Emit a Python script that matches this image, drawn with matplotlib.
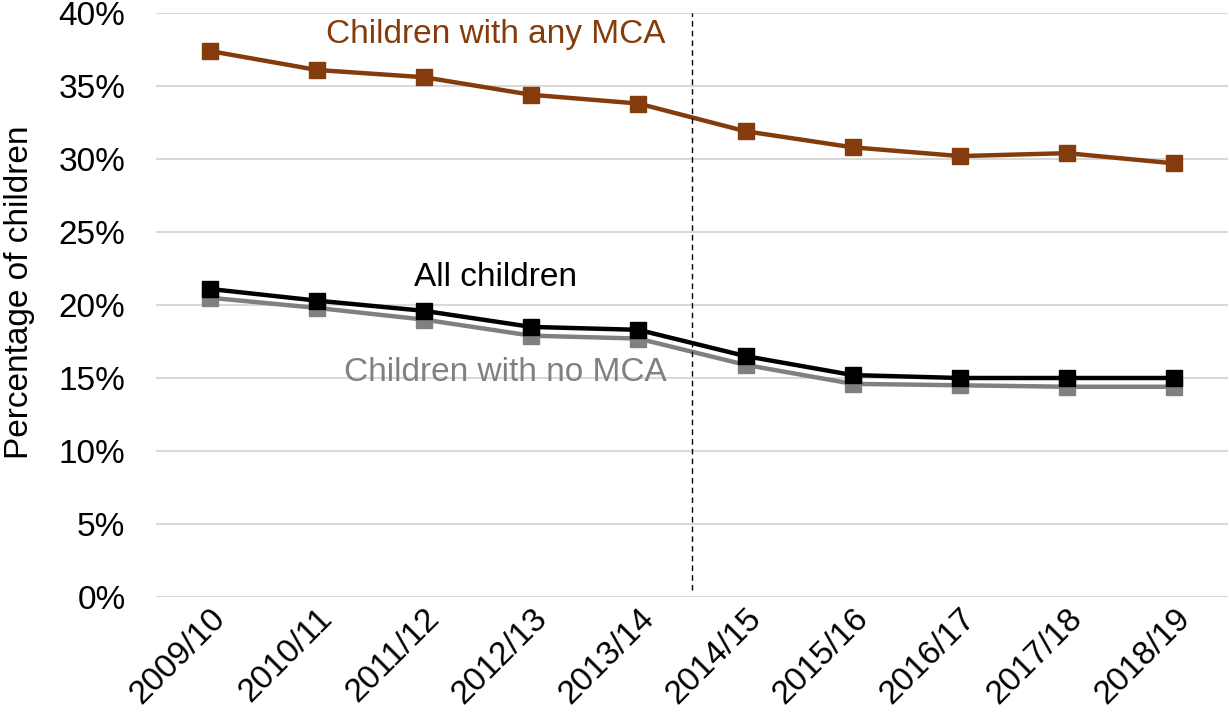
import matplotlib
matplotlib.use("Agg")
import matplotlib.pyplot as plt
from matplotlib.ticker import FuncFormatter

plt.rcParams['font.family'] = ['Liberation Sans', 'DejaVu Sans']

years = ["2009/10", "2010/11", "2011/12", "2012/13", "2013/14",
         "2014/15", "2015/16", "2016/17", "2017/18", "2018/19"]
any_mca = [37.4, 36.1, 35.6, 34.4, 33.8, 31.9, 30.8, 30.2, 30.4, 29.7]
all_children = [21.1, 20.3, 19.6, 18.5, 18.3, 16.5, 15.2, 15.0, 15.0, 15.0]
no_mca = [20.5, 19.8, 19.0, 17.9, 17.7, 15.9, 14.6, 14.5, 14.4, 14.4]
yticks = [0, 5, 10, 15, 20, 25, 30, 35, 40]

BROWN = "#843C0C"
GREY = "#808080"
FS = 24

fig = plt.figure(figsize=(12.29, 7.23), dpi=100)
ax = fig.add_axes([0.127, 0.1743, 0.872, 0.8077])

x = list(range(len(years)))
ax.plot(x, no_mca, color=GREY, lw=3.2, marker='s', ms=12, zorder=3)
ax.plot(x, all_children, color='black', lw=3.2, marker='s', ms=12, zorder=4)
ax.plot(x, any_mca, color=BROWN, lw=3.2, marker='s', ms=12, zorder=4)

ax.axvline(4.5, ymin=0.012, ymax=1.0, color='black', lw=1, ls=(0, (4, 3)), zorder=5)

ax.set_xlim(-0.5, len(years) - 0.5)
ax.set_ylim(0, 40)
ax.set_yticks(yticks)
ax.yaxis.set_major_formatter(FuncFormatter(lambda v, p: f"{v:.0f}%"))
ax.grid(axis='y', color='#d9d9d9', lw=1.5, zorder=0)
ax.set_axisbelow(True)
for s in ax.spines.values():
    s.set_visible(False)
ax.tick_params(axis='both', length=0, labelsize=FS)
ax.tick_params(axis='y', pad=22)
ax.set_xticks(x)
ax.set_xticklabels(years, rotation=45, ha='right', rotation_mode='anchor')
ax.tick_params(axis='x', pad=4)
ax.set_ylabel("Percentage of children", fontsize=FS)
ax.yaxis.set_label_coords(-0.113, 0.522)

ax.text(2.67, 38.5, "Children with any MCA", color=BROWN, fontsize=FS,
        ha='center', va='center')
ax.text(2.67, 21.9, "All children", color='black', fontsize=FS,
        ha='center', va='center')
ax.text(2.76, 15.4, "Children with no MCA", color=GREY, fontsize=FS,
        ha='center', va='center')

fig.savefig("out.png", dpi=100)
